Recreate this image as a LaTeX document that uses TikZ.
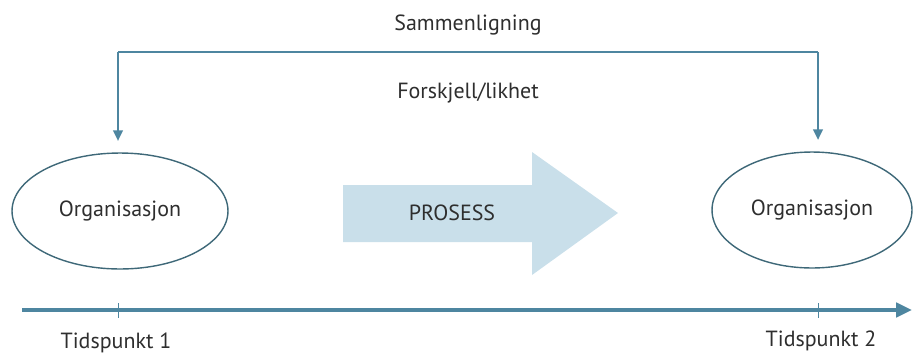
\documentclass[tikz,border=0pt]{standalone}
\usepackage{fontspec}
\setmainfont{PT Sans}
\usetikzlibrary{arrows.meta,shapes.geometric}
\definecolor{linje}{HTML}{4E86A0}
\definecolor{kant}{HTML}{3E6878}
\definecolor{pil}{HTML}{C9DFEA}
\definecolor{tekst}{HTML}{2E2E2E}
\tikzset{
  org/.style={ellipse, draw=kant, line width=0.8pt, minimum height=2.32cm, inner sep=0pt},
  link/.style={draw=linje, line width=1.1pt},
  akse/.style={draw=linje, line width=2.3pt, -{Triangle[length=9pt,width=8pt]}}
}
\begin{document}
\begin{tikzpicture}[x=0.02cm, y=-0.02cm, font=\fontsize{12.5}{15}\selectfont, text=tekst]
    \useasboundingbox (0,0) rectangle (913,356);

    \node[org, minimum width=4.32cm] (org1) at (120,211) {Organisasjon};
    \node[org, minimum width=4.0cm] (org2) at (812,210) {Organisasjon};

    \fill [pil]
    (343,185) -- (532,185) -- (532,152) -- (618,213) -- (532,275) -- (532,242) -- (343,242) -- cycle;
    \node (prosess) at (452,213) {PROSESS};

    \node (sammen) at (468,25) {Sammenligning};
    \node (forskjell) at (468,93) {Forskjell/likhet};

    \coordinate (venstre) at (118,52);
    \coordinate (hoyre) at (818,52);
    \draw [link] (venstre) -- (hoyre);
    \draw [link, -{Triangle[length=6pt,width=5.5pt]}, shorten >=6.5pt]
    (venstre) -- (venstre |- org1.north);
    \draw [link, -{Triangle[length=6pt,width=5.5pt]}, shorten >=6.5pt]
    (hoyre) -- (hoyre |- org2.north);

    \coordinate (start) at (22,310);
    \coordinate (slutt) at (912,310);
    \draw [akse] (start) -- (slutt);
    \draw [linje, line width=0.4pt]
    (118,303) -- (118,318)
    (818,303) -- (818,318);

    \node (t1) at (116,343) {Tidspunkt 1};
    \node (t2) at (821,341) {Tidspunkt 2};

  \end{tikzpicture}
\end{document}
